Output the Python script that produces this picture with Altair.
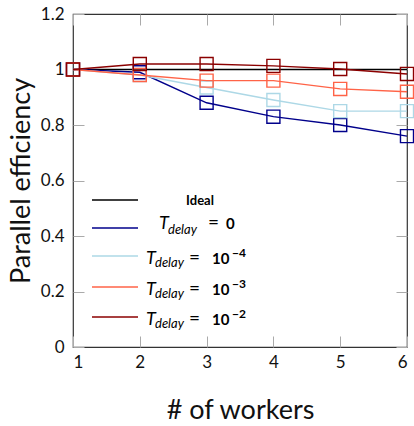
import altair as alt
import pandas as pd

workers = [1, 2, 3, 4, 5, 6]
ideal = [1.0, 1.0, 1.0, 1.0, 1.0, 1.0]
t_zero = [1.00, 0.99, 0.88, 0.83, 0.80, 0.76]
t_1e4 = [1.00, 0.98, 0.935, 0.89, 0.85, 0.85]
t_1e3 = [1.00, 0.98, 0.96, 0.96, 0.93, 0.92]
t_1e2 = [1.00, 1.02, 1.02, 1.013, 1.002, 0.984]

series_names = ["Ideal", "T0", "T4", "T3", "T2"]
series_values = [ideal, t_zero, t_1e4, t_1e3, t_1e2]
series_colors = ["#000000", "#00008b", "#add8e6", "#ff6347", "#8b0000"]
series_markers = [False, True, True, True, True]

x_ticks = [1, 2, 3, 4, 5, 6]
y_ticks = [0, 0.2, 0.4, 0.6, 0.8, 1.0, 1.2]

W, H = 334, 333
FONT = "Lato"

x_scale = alt.Scale(domain=[1, 6], nice=False)
y_scale = alt.Scale(domain=[0, 1.2], nice=False)

x_axis = alt.Axis(
    title="# of workers", values=x_ticks, format="d", ticks=False, domain=False,
    labelFontSize=17, labelFont=FONT, labelColor="#111", labelPadding=7,
    titleFontSize=27, titleFont=FONT, titleFontWeight="normal", titleColor="#111",
    titlePadding=27,
    grid=True, gridColor="#aaaaaa", gridWidth=1, gridDash=[11, H - 22, 11, 2000],
)
y_axis = alt.Axis(
    title="Parallel efficiency", values=y_ticks, format="~g", ticks=False, domain=False,
    labelFontSize=17, labelFont=FONT, labelColor="#111", labelPadding=9,
    titleFontSize=27, titleFont=FONT, titleFontWeight="normal", titleColor="#111",
    titlePadding=5,
    grid=True, gridColor="#aaaaaa", gridWidth=1, gridDash=[11, W - 22, 11, 2000],
)

layers = []
for i, (name, vals, col, mk) in enumerate(zip(series_names, series_values, series_colors, series_markers)):
    df = pd.DataFrame({"workers": workers, "eff": vals})
    enc = dict(
        x=alt.X("workers:Q", scale=x_scale, axis=x_axis),
        y=alt.Y("eff:Q", scale=y_scale, axis=y_axis),
    )
    if mk:
        m = alt.Chart(df).mark_line(
            color=col, strokeWidth=1.4,
            point=alt.OverlayMarkDef(shape="square", filled=False, size=170, strokeWidth=1.4, color=col),
        )
    else:
        m = alt.Chart(df).mark_line(color=col, strokeWidth=1.3)
    layers.append(m.encode(**enc))

# ---- manual legend (pixel layout relative to plot area at (73,14)) ----
OX, OY = 73, 14
one = pd.DataFrame({"a": [0]})


def txt(s, px, py, size, style="normal", weight="normal", align="left"):
    return alt.Chart(one).mark_text(
        text=s, font=FONT, fontSize=size, fontStyle=style, fontWeight=weight,
        align=align, baseline="alphabetic", color="#000",
    ).encode(x=alt.value(px - OX), y=alt.value(py - OY))


line_y = [200, 228, 256, 287, 317]
for col, ly in zip(series_colors, line_y):
    layers.append(
        alt.Chart(one).mark_rule(color=col, strokeWidth=1.6).encode(
            x=alt.value(92 - OX), x2=alt.value(138 - OX), y=alt.value(ly - OY)
        )
    )

legend_exponents = ["−4", "−3", "−2"]
layers.append(txt("Ideal", 200, 205, 13, weight="bold", align="center"))
# T_delay = 0
layers.append(txt("T", 159, 228.5, 18, style="italic"))
layers.append(txt("delay", 168, 234, 13, style="italic"))
layers.append(txt("=", 208, 228.5, 19))
layers.append(txt("0", 226, 228.5, 15, weight="bold"))
for ex, base in zip(legend_exponents, [264, 295, 325]):
    layers.append(txt("T", 146, base, 18, style="italic"))
    layers.append(txt("delay", 155, base + 2.5, 13, style="italic"))
    layers.append(txt("=", 189, base, 19))
    layers.append(txt("10", 212, base, 15, weight="bold"))
    layers.append(txt(ex, 232, base - 7, 12, weight="bold"))

chart = alt.layer(*layers).properties(
    width=W, height=H,
    padding={"left": OX, "top": OY, "right": 7, "bottom": 79},
    autosize=alt.AutoSizeParams(type="none"),
    background="white",
).configure_view(stroke="#333333", strokeWidth=1.2)

chart.save("out.html", embed_options={"renderer": "svg", "actions": False})
